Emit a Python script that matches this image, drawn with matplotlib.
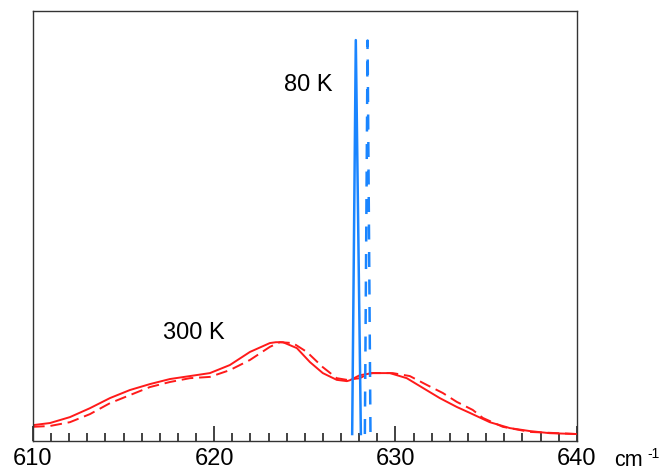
import matplotlib
matplotlib.use("Agg")
import matplotlib.pyplot as plt

plt.rcParams['font.family'] = ['Liberation Sans', 'DejaVu Sans']

# 300 K, red curves (wavenumber in cm-1, intensity)
red_x = [610.00, 610.94, 612.04, 613.14, 614.25, 615.35, 616.45, 617.56, 618.66,
         619.76, 620.86, 621.97, 623.07, 623.40, 623.79, 624.56, 625.28, 625.99,
         626.76, 627.32, 627.48, 628.03, 628.75, 629.69, 630.62, 631.51, 632.44,
         633.38, 634.10, 635.20, 636.31, 637.41, 638.51, 640.00]
red_y = [0.021, 0.026, 0.040, 0.061, 0.085, 0.104, 0.118, 0.130, 0.137,
         0.144, 0.163, 0.194, 0.215, 0.217, 0.217, 0.203, 0.170, 0.144,
         0.128, 0.125, 0.127, 0.139, 0.144, 0.144, 0.132, 0.109, 0.085,
         0.064, 0.050, 0.028, 0.014, 0.007, 0.002, 0.0]

red_dash_x = [610.00, 610.94, 612.04, 613.14, 614.25, 615.35, 616.45, 617.56, 618.66,
              619.76, 620.86, 621.97, 623.07, 623.62, 624.34, 625.11, 625.99, 626.76,
              627.32, 628.03, 628.58, 629.85, 630.79, 631.73, 632.61, 633.38, 634.26,
              634.82, 635.92, 637.41, 640.00]
red_dash_y = [0.017, 0.019, 0.028, 0.047, 0.073, 0.092, 0.111, 0.123, 0.132,
              0.135, 0.151, 0.175, 0.206, 0.217, 0.215, 0.194, 0.158, 0.132,
              0.128, 0.132, 0.144, 0.144, 0.137, 0.116, 0.097, 0.076, 0.057,
              0.038, 0.017, 0.005, 0.0]

# 80 K, blue narrow lines
blue_x = [627.61, 627.81, 628.09]
blue_y = [0.0, 0.931, 0.0]
blue_dash_x = [628.31, 628.46, 628.62]
blue_dash_y = [0.0, 0.930, 0.0]

major_ticks = [610, 620, 630, 640]
minor_ticks = list(range(610, 641))

fig = plt.figure(figsize=(6.66, 4.74), dpi=100)
ax = fig.add_axes([0.0495, 0.0696, 0.8165, 0.9074])

red = '#ff1a1a'
blue = '#1a85ff'
ax.plot(red_x, red_y, color=red, lw=1.4)
ax.plot(red_dash_x, red_dash_y, color=red, lw=1.4, dashes=(6, 3))
ax.plot(blue_x, blue_y, color=blue, lw=1.8)
ax.plot(blue_dash_x, blue_dash_y, color=blue, lw=1.8, dashes=(6, 5))

ax.set_xlim(610, 640)
ax.set_ylim(-0.0165, 1.0)
ax.set_yticks([])
ax.set_xticks(major_ticks)
ax.set_xticks(minor_ticks, minor=True)
ax.tick_params(axis='x', which='major', direction='in', length=11, width=1.2,
               color='#222222', labelsize=17, pad=5)
ax.tick_params(axis='x', which='minor', direction='in', length=6, width=1.2,
               color='#222222')
for s in ax.spines.values():
    s.set_linewidth(1.0)
    s.set_color('#333333')

fig.text(308 / 666, 1 - 85 / 474, '80 K', fontsize=17, ha='center', va='center')
fig.text(194 / 666, 1 - 333 / 474, '300 K', fontsize=17, ha='center', va='center')
fig.text(614 / 666, 1 - 466 / 474, 'cm', fontsize=15.5, ha='left', va='baseline')
fig.text(647 / 666, 1 - 458 / 474, '-1', fontsize=10, ha='left', va='baseline')

fig.savefig('out.png', dpi=100)
